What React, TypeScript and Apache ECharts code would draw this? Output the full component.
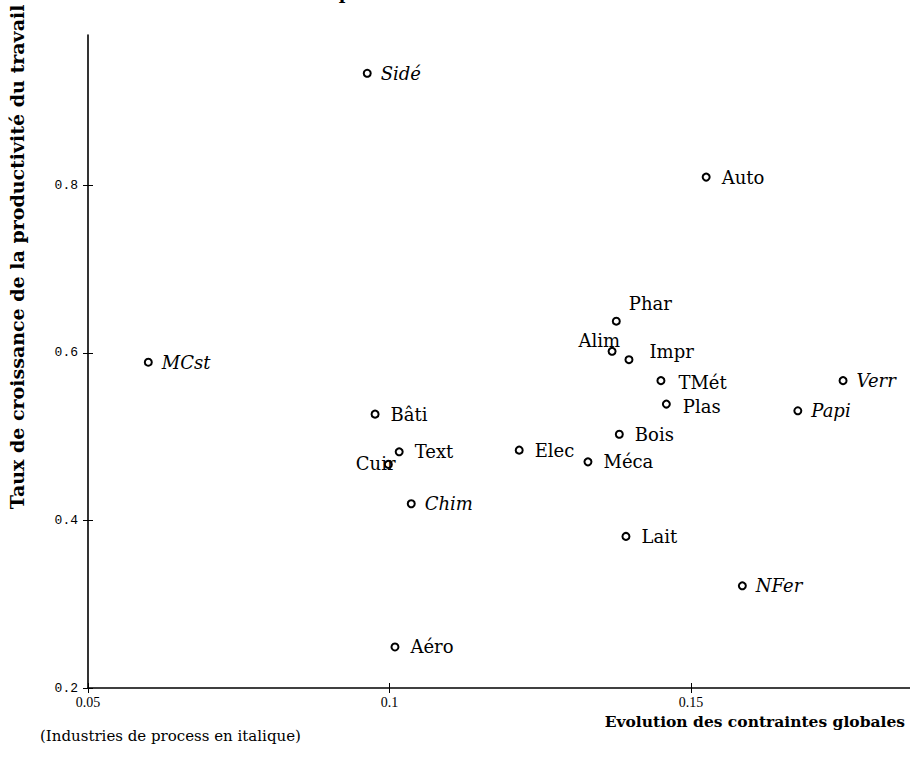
import React, { useEffect, useRef } from "react";
import * as echarts from "echarts";

// Secteurs
const sectors = ["Sidé", "Auto", "Phar", "Alim", "Impr", "TMét", "Plas", "Bois", "Méca", "Elec", "Lait", "NFer", "Verr", "Papi", "MCst", "Bâti", "Text", "Cuir", "Chim", "Aéro"];
// Evolution des contraintes globales (x)
const contraintes = [0.0963, 0.1525, 0.1376, 0.1369, 0.1397, 0.145, 0.1459, 0.1381, 0.1329, 0.1215, 0.1392, 0.1585, 0.1752, 0.1677, 0.06, 0.0976, 0.1016, 0.0998, 0.1036, 0.1009];
// Taux de croissance de la productivité du travail (y)
const productivite = [0.934, 0.81, 0.638, 0.602, 0.592, 0.567, 0.539, 0.503, 0.47, 0.484, 0.381, 0.322, 0.567, 0.531, 0.589, 0.527, 0.482, 0.467, 0.42, 0.249];
// Industries de process (en italique)
const processIndustries = ["Sidé", "NFer", "Verr", "Papi", "MCst", "Chim"];

const xTicks = [0.05, 0.1, 0.15];
const yTicks = [0.2, 0.4, 0.6, 0.8];

const labelOffsets: Record<string, [number, number]> = {
  Phar: [-3, -18],
  Alim: [-49, -11],
  Cuir: [-48, -1],
  Impr: [5, -8],
  TMét: [2, 2],
  Plas: [1, 2],
};

export default function App() {
  const ref = useRef<HTMLDivElement>(null);
  useEffect(() => {
    if (!ref.current) return;
    const chart = echarts.init(ref.current, null, { renderer: "svg" });
    const xMin = 0.05, xMax = 0.1863, yMin = 0.2, yMax = 0.9797;
    const data = sectors.map((name, i) => {
      const italic = processIndustries.includes(name);
      const off = labelOffsets[name] || [0, 0];
      return {
        name,
        value: [contraintes[i], productivite[i]],
        label: { fontStyle: italic ? "italic" : "normal", offset: italic ? [off[0] - 2, off[1]] : off },
      };
    });
    const fmt = (v: number) => String(+(+v).toFixed(2));
    chart.setOption({
      animation: false,
      backgroundColor: "#ffffff",
      grid: { left: 88, right: 0, top: 35, bottom: 79, containLabel: false },
      xAxis: [
        {
          type: "value", position: "bottom", min: xMin, max: xMax, interval: 0.05,
          axisLine: { show: true, onZero: false, lineStyle: { color: "#000", width: 1.6 } },
          axisTick: { show: true, inside: false, length: 5, customValues: xTicks, lineStyle: { color: "#000", width: 1 } },
          axisLabel: { show: true, customValues: xTicks, formatter: fmt, color: "#000", fontFamily: "Liberation Serif", fontSize: 14, margin: 7 },
          splitLine: { show: false },
        },
        {
          type: "value", position: "bottom", min: xMin, max: xMax, interval: 0.05,
          axisLine: { show: false, onZero: false },
          axisTick: { show: true, inside: true, length: 5, customValues: xTicks, lineStyle: { color: "#000", width: 1 } },
          axisLabel: { show: false },
          splitLine: { show: false },
        },
      ],
      yAxis: [
        {
          type: "value", position: "left", min: yMin, max: yMax, interval: 0.2,
          axisLine: { show: true, onZero: false, lineStyle: { color: "#000", width: 1.6 } },
          axisTick: { show: true, inside: false, length: 5, customValues: yTicks, lineStyle: { color: "#000", width: 1 } },
          axisLabel: { show: true, customValues: yTicks, formatter: fmt, color: "#000", fontFamily: "Liberation Mono", fontSize: 13, margin: 10 },
          splitLine: { show: false },
        },
        {
          type: "value", position: "left", min: yMin, max: yMax, interval: 0.2,
          axisLine: { show: false, onZero: false },
          axisTick: { show: true, inside: true, length: 5, customValues: yTicks, lineStyle: { color: "#000", width: 1 } },
          axisLabel: { show: false },
          splitLine: { show: false },
        },
      ],
      series: [
        {
          type: "scatter",
          xAxisIndex: 0,
          yAxisIndex: 0,
          symbol: "circle",
          symbolSize: 7,
          itemStyle: { color: "#ffffff", borderColor: "#000", borderWidth: 2, opacity: 1 },
          label: {
            show: true,
            position: "right",
            distance: 11,
            formatter: (p: any) => p.name,
            color: "#000",
            fontFamily: "DejaVu Serif",
            fontSize: 18,
          },
          emphasis: { disabled: true },
          data,
        },
      ],
      graphic: [
        {
          type: "text", x: 345, y: 1,
          style: { text: "p", font: "bold 18px 'DejaVu Serif'", fill: "#000", align: "center", verticalAlign: "bottom" },
          silent: true,
        },
        {
          type: "text", x: 17, y: 257, rotation: Math.PI / 2,
          style: { text: "Taux de croissance de la productivité du travail", font: "bold 19px 'DejaVu Serif'", fill: "#000", align: "center", verticalAlign: "middle" },
          silent: true,
        },
        {
          type: "text", x: 905, y: 721,
          style: { text: "Evolution des contraintes globales", font: "bold 15.5px 'DejaVu Serif'", fill: "#000", align: "right", verticalAlign: "middle" },
          silent: true,
        },
        {
          type: "text", x: 40, y: 736,
          style: { text: "(Industries de process en italique)", font: "15px 'DejaVu Serif'", fill: "#000", align: "left", verticalAlign: "middle" },
          silent: true,
        },
      ],
    });
    return () => chart.dispose();
  }, []);
  return <div ref={ref} style={{ position: "fixed", left: 0, top: 0, width: 910, height: 767 }} />;
}
